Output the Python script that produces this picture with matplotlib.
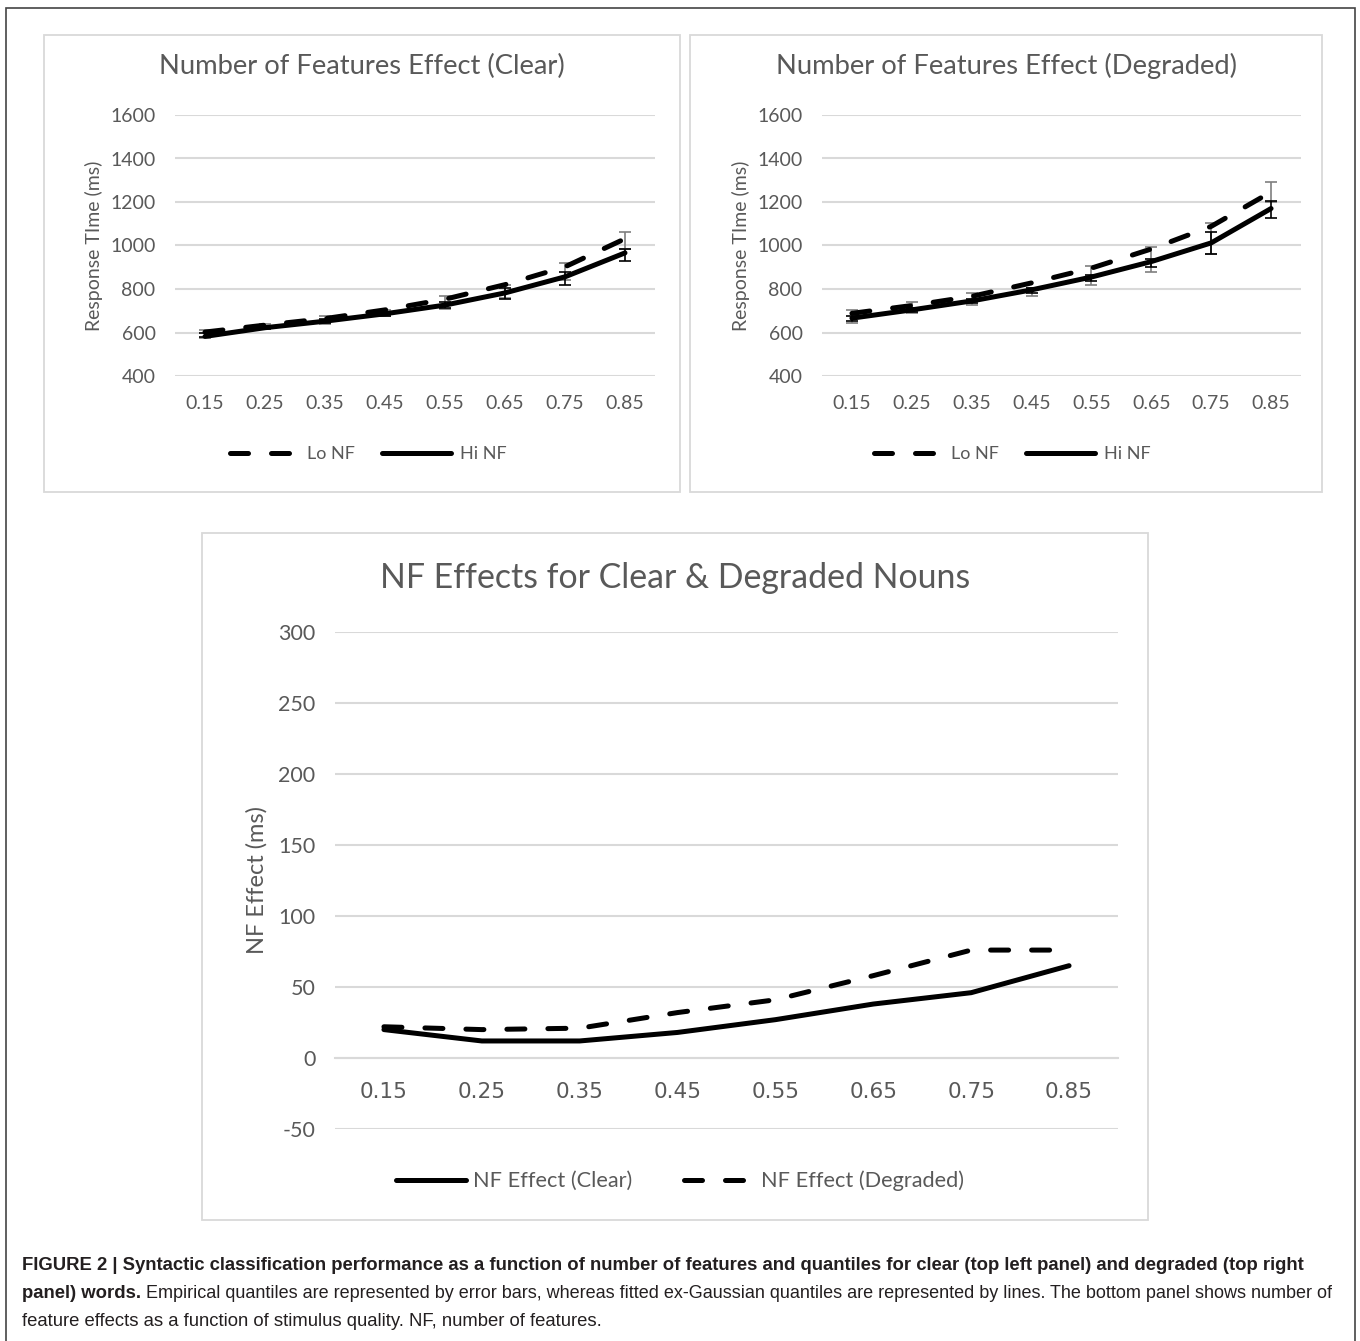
import matplotlib
matplotlib.use('Agg')
import matplotlib.pyplot as plt
from matplotlib.patches import Rectangle
from matplotlib.lines import Line2D

plt.rcParams['axes.unicode_minus'] = False

W, H = 1360, 1341

quantiles = ['0.15', '0.25', '0.35', '0.45', '0.55', '0.65', '0.75', '0.85']

# Clear words: fitted ex-Gaussian quantiles (lines) and empirical quantiles (error bars)
clear_lo_fit = [602, 634, 664, 704, 753, 820, 902, 1031]
clear_hi_fit = [582, 622, 652, 686, 726, 782, 856, 966]
clear_lo_emp = [594, 630, 659, 690, 738, 790, 880, 1022]
clear_lo_err = [18, 10, 18, 12, 29, 30, 40, 38]
clear_hi_emp = [590, 622, 652, 686, 726, 778, 850, 958]
clear_hi_err = [10, 8, 8, 10, 12, 25, 30, 28]

# Degraded words
degr_lo_fit = [688, 724, 766, 828, 896, 984, 1088, 1246]
degr_hi_fit = [666, 704, 745, 796, 855, 926, 1012, 1170]
degr_lo_emp = [674, 715, 754, 785, 862, 937, 1031, 1246]
degr_lo_err = [30, 25, 27, 19, 44, 57, 71, 44]
degr_hi_emp = [666, 704, 745, 792, 850, 920, 1010, 1165]
degr_hi_err = [12, 10, 10, 12, 15, 20, 50, 40]

# NF effects (Lo NF - Hi NF)
effect_clear = [20, 12, 12, 18, 27, 38, 46, 65]
effect_degraded = [22, 20, 21, 32, 41, 58, 76, 76]

TXT = '#595959'
GRID = '#d9d9d9'
FONT = 'Lato'
CAP = '#231f20'


def px(x0, y0, x1, y1):
    # pixel box (left, top, right, bottom) -> figure fraction rect
    return [x0 / W, 1 - y1 / H, (x1 - x0) / W, (y1 - y0) / H]


def style_axes(ax, ylim, yticks, tick_size):
    ax.set_xlim(-0.5, len(quantiles) - 0.5)
    ax.set_ylim(*ylim)
    ax.set_yticks(yticks)
    ax.set_xticks(range(len(quantiles)))
    ax.set_xticklabels(quantiles)
    for s in ax.spines.values():
        s.set_visible(False)
    ax.grid(axis='y', color=GRID, linewidth=1.5)
    ax.set_axisbelow(True)
    ax.tick_params(length=0, labelcolor=TXT, labelsize=tick_size, pad=14)
    for lab in ax.get_xticklabels() + ax.get_yticklabels():
        lab.set_family(FONT)


dash_kw = dict(color='black', linewidth=3.6, linestyle=(0, (3.6, 4.6)),
               dash_capstyle='round', solid_capstyle='round')
solid_kw = dict(color='black', linewidth=3.6, solid_capstyle='round')

fig = plt.figure(figsize=(W / 100, H / 100), dpi=100)

# outer frame and panel boxes
fig.patches.append(Rectangle((6 / W, -0.01), 1349 / W, 1 - 8 / H + 0.01,
                             transform=fig.transFigure, fill=False,
                             edgecolor='#444444', linewidth=1.2))
for (x0, y0, x1, y1) in [(44, 35, 680, 492), (690, 35, 1322, 492), (202, 533, 1148, 1220)]:
    fig.patches.append(Rectangle((x0 / W, 1 - y1 / H), (x1 - x0) / W, (y1 - y0) / H,
                                 transform=fig.transFigure, fill=False,
                                 edgecolor=GRID, linewidth=1.3))

panels = [
    ((175, 115, 655, 376), (44, 680), 'Number of Features Effect (Clear)',
     clear_lo_fit, clear_hi_fit, clear_lo_emp, clear_lo_err, clear_hi_emp, clear_hi_err),
    ((822, 115, 1301, 376), (690, 1322), 'Number of Features Effect (Degraded)',
     degr_lo_fit, degr_hi_fit, degr_lo_emp, degr_lo_err, degr_hi_emp, degr_hi_err),
]

for box, (bx0, bx1), title, lo, hi, lo_e, lo_err, hi_e, hi_err in panels:
    ax = fig.add_axes(px(*box))
    x = range(len(quantiles))
    ax.errorbar(x, lo_e, yerr=lo_err, fmt='none', ecolor='#7f7f7f', elinewidth=1.2,
                capsize=4, capthick=1.2, zorder=3)
    ax.errorbar(x, hi_e, yerr=hi_err, fmt='none', ecolor='black', elinewidth=1.2,
                capsize=4, capthick=1.2, zorder=3)
    ax.plot(x, lo, zorder=4, **dash_kw)
    ax.plot(x, hi, zorder=4, **solid_kw)
    style_axes(ax, (400, 1600), range(400, 1601, 200), 14)
    ax.set_ylabel('Response TIme (ms)', family=FONT, color=TXT, fontsize=14, labelpad=5)
    fig.text((bx0 + bx1) / 2 / W, 1 - 66 / H, title, family=FONT, color=TXT,
             fontsize=19.7, ha='center', va='center')
    handles = [Line2D([], [], **dash_kw), Line2D([], [], **solid_kw)]
    leg = fig.legend(handles, ['Lo NF', 'Hi NF'], ncol=2, frameon=False,
                     loc='center', bbox_to_anchor=((bx0 + bx1) / 2 / W + 6 / W, 1 - 454 / H),
                     prop={'family': FONT, 'size': 13}, handlelength=3.8,
                     handletextpad=0.5, columnspacing=1.5)
    for t in leg.get_texts():
        t.set_color(TXT)

# bottom panel: NF effects
ax = fig.add_axes(px(335, 632, 1118, 1129))
x = range(len(quantiles))
ax.plot(x, effect_clear, zorder=4, **solid_kw)
ax.plot(x, effect_degraded, zorder=4, **dash_kw)
style_axes(ax, (-50, 300), range(-50, 301, 50), 15.5)
# category axis crosses at zero
ax.spines['bottom'].set_visible(True)
ax.spines['bottom'].set_position(('data', 0))
ax.spines['bottom'].set_color(GRID)
ax.spines['bottom'].set_linewidth(1.5)
ax.xaxis.set_tick_params(pad=17)
ax.set_ylabel('NF Effect (ms)', family=FONT, color=TXT, fontsize=17, labelpad=8)
fig.text(675 / W, 1 - 578 / H, 'NF Effects for Clear & Degraded Nouns', family=FONT,
         color=TXT, fontsize=24.4, ha='center', va='center')
handles = [Line2D([], [], **solid_kw), Line2D([], [], **dash_kw)]
leg = fig.legend(handles, ['NF Effect (Clear)', 'NF Effect (Degraded)'], ncol=2,
                 frameon=False, loc='center', bbox_to_anchor=(680 / W, 1 - 1181 / H),
                 prop={'family': FONT, 'size': 15.7}, handlelength=3.2,
                 handletextpad=0.3, columnspacing=2.4)
for t in leg.get_texts():
    t.set_color(TXT)

# caption
cap_font = 'Liberation Sans'
cap_size = 13.3
fig.text(22 / W, 1 - 1265 / H,
         'FIGURE 2 | Syntactic classification performance as a function of number of '
         'features and quantiles for clear (top left panel) and degraded (top right',
         family=cap_font, fontsize=cap_size, weight='bold', color=CAP, va='center')
bold2 = fig.text(22 / W, 1 - 1294 / H, 'panel) words.', family=cap_font, fontsize=cap_size,
                 weight='bold', color=CAP, va='center')
fig.canvas.draw()
bb = bold2.get_window_extent(fig.canvas.get_renderer())
fig.text(bb.x1 / W, 1 - 1294 / H, ' Empirical quantiles are represented by error bars, whereas '
         'fitted ex-Gaussian quantiles are represented by lines. The bottom panel shows number of',
         family=cap_font, fontsize=13.0, color=CAP, va='center')
fig.text(22 / W, 1 - 1322 / H, 'feature effects as a function of stimulus quality. NF, number '
         'of features.', family=cap_font, fontsize=cap_size, color=CAP, va='center')

fig.savefig('out.png', dpi=100)
